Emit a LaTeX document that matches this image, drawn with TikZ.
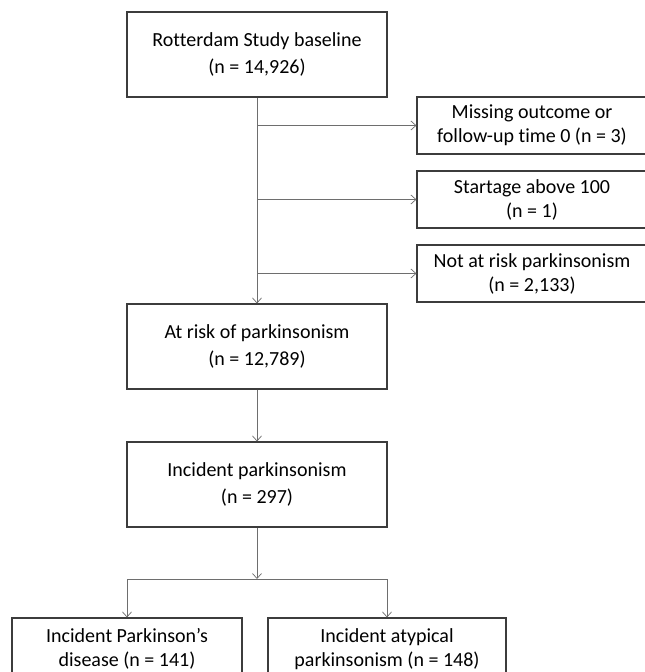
\documentclass[tikz,border=0pt]{standalone}
\usepackage{fontspec}
\setmainfont{Carlito}[Ligatures=NoCommon]
\usetikzlibrary{arrows.meta}
\definecolor{boxline}{RGB}{60,60,60}
\definecolor{arrline}{RGB}{110,110,110}
\tikzset{
  flowbox/.style={draw=boxline, line width=1.1pt, align=center, inner sep=0pt,
    font=\fontsize{20}{24}\selectfont},
  bigbox/.style={flowbox, minimum width=260pt, minimum height=85pt},
  sidebox/.style={flowbox, minimum width=230pt, minimum height=57pt},
  endbox/.style={flowbox, minimum width=230pt, minimum height=62pt},
  flowarr/.style={draw=arrline, line width=0.7pt, -{Straight Barb[length=5pt,width=9pt]}},
  flowline/.style={draw=arrline, line width=0.7pt}
}
\begin{document}
\begin{tikzpicture}[x=1pt, y=-1pt]
            \path[use as bounding box, clip] (0,0) rectangle (645,672);
            \fill[white] (0,0) rectangle (645,672);
            % main column
            \node[bigbox] (base) at (257,54.5) {Rotterdam Study baseline\\[3pt](n = 14,926)};
            \node[bigbox] (risk) at (257,346.5) {At risk of parkinsonism\\[3pt](n = 12,789)};
            \node[bigbox] (inc) at (257,484.5) {Incident parkinsonism\\[3pt](n = 297)};
            % exclusions
            \node[sidebox] (miss) at (532,125.5) {Missing outcome or\\follow-up time 0 (n = 3)};
            \node[sidebox] (age) at (532,199.5) {Startage above 100\\(n = 1)};
            \node[sidebox] (notrisk) at (532,273.5) {Not at risk parkinsonism\\(n = 2,133)};
            % subtypes
            \node[endbox] (pd) at (127,649) {Incident Parkinson’s\\disease (n = 141)};
            \node[endbox, minimum width=238pt] (atyp) at (387,649) {Incident atypical\\parkinsonism (n = 148)};
            \coordinate (split) at (257,579);
            % connectors
            \draw[flowarr] (base) -- (risk);
            \draw[flowarr] (base.south |- miss.west) -- (miss.west);
            \draw[flowarr] (base.south |- age.west) -- (age.west);
            \draw[flowarr] (base.south |- notrisk.west) -- (notrisk.west);
            \draw[flowarr] (risk) -- (inc);
            \draw[flowarr] (inc) -- (split);
            \draw[flowline] (pd.north |- split) -- (atyp.north |- split);
            \draw[flowarr] (pd.north |- split) -- (pd.north);
            \draw[flowarr] (atyp.north |- split) -- (atyp.north);
\end{tikzpicture}
\end{document}
